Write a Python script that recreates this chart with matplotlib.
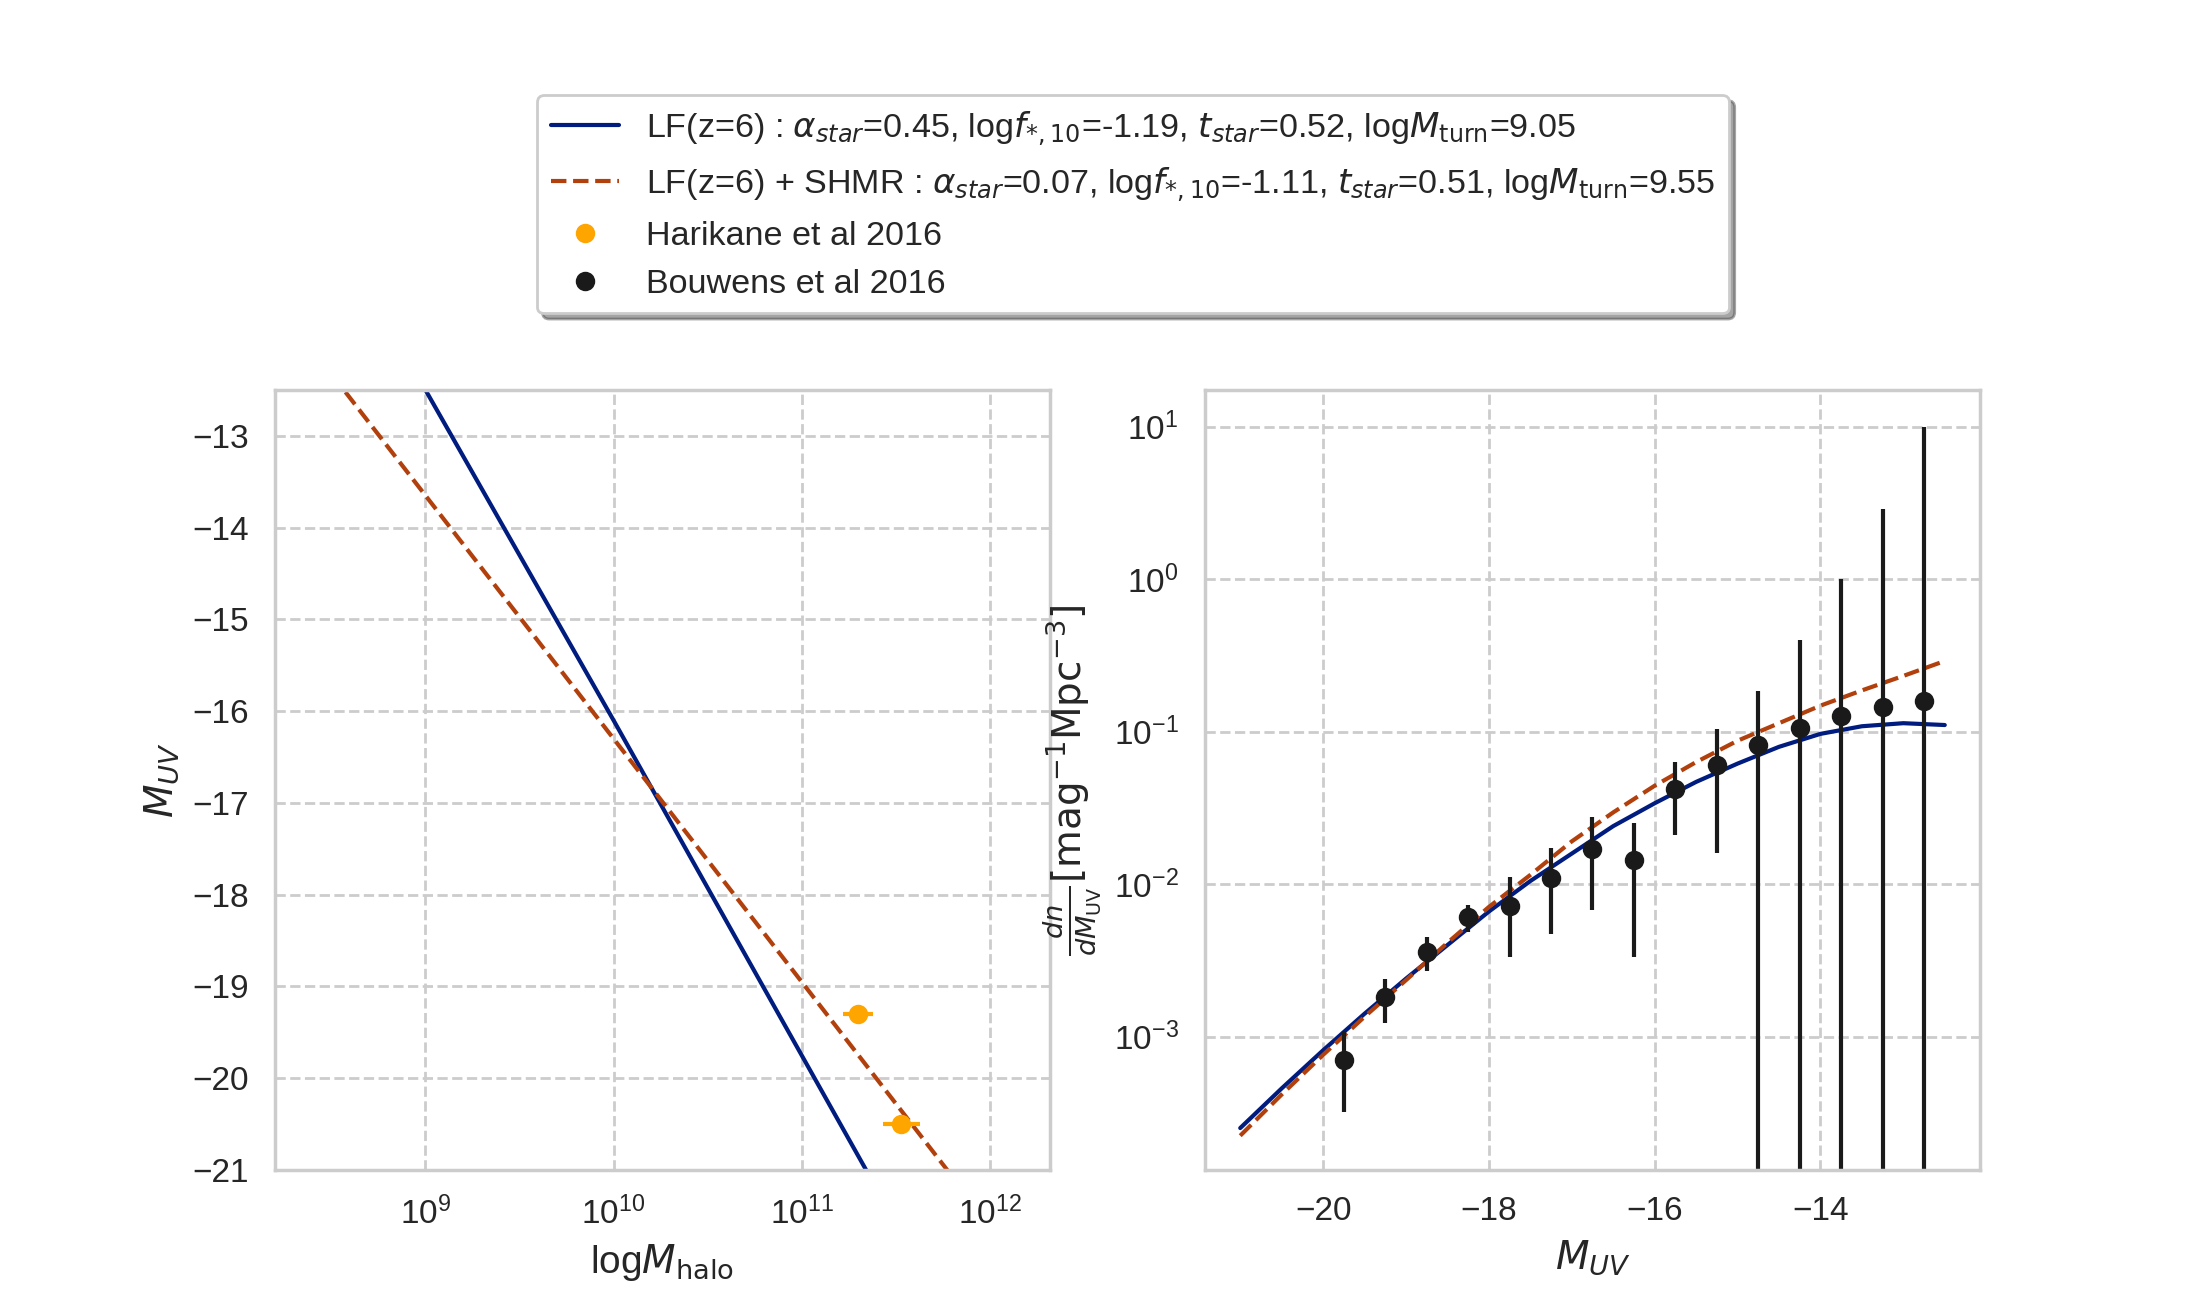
import numpy as np
import matplotlib
matplotlib.use("Agg")
import matplotlib.pyplot as plt
import seaborn as sns
from matplotlib.lines import Line2D

sns.set_theme(style="whitegrid")
plt.rcParams["font.family"] = ["Liberation Sans", "DejaVu Sans"]
plt.rcParams["grid.linestyle"] = "--"
plt.rcParams["xtick.labelsize"] = 12
plt.rcParams["ytick.labelsize"] = 12
plt.rcParams["axes.labelsize"] = 14

BLUE = "#001c7f"
RED = "#b1400d"
DOT = "#1a1a1a"

# ---- left panel: M_UV vs halo mass ----
logm_lf = [8.5, 9.0, 10.0, 11.0, 12.0]
muv_lf = [-10.7, -12.5, -16.1, -19.75, -23.4]
logm_shmr = [8.0, 9.0, 10.0, 11.0, 12.0]
muv_shmr = [-11.0, -13.65, -16.3, -18.95, -21.6]

hari_logm = [11.30, 11.53]
hari_logm_err = [0.08, 0.10]
hari_muv = [-19.3, -20.5]

# ---- right panel: luminosity function ----
lf_muv = [-21.0, -20.5, -20.0, -19.5, -19.0, -18.5, -18.0, -17.5, -17.0,
          -16.5, -16.0, -15.5, -15.0, -14.5, -14.0, -13.5, -13.0, -12.5]
lf_log_phi = [-3.60, -3.34, -3.09, -2.85, -2.62, -2.40, -2.18, -1.98, -1.80,
              -1.62, -1.47, -1.33, -1.21, -1.10, -1.015, -0.965, -0.945, -0.957]
shmr_log_phi = [-3.65, -3.38, -3.12, -2.87, -2.63, -2.385, -2.15, -1.94, -1.72,
                -1.53, -1.355, -1.20, -1.06, -0.945, -0.83, -0.73, -0.635, -0.537]

bou_muv = [-19.75, -19.25, -18.75, -18.25, -17.75, -17.25, -16.75, -16.25,
           -15.75, -15.25, -14.75, -14.25, -13.75, -13.25, -12.75]
bou_phi = [7.0e-4, 1.81e-3, 3.6e-3, 6.05e-3, 7.2e-3, 1.1e-2, 1.71e-2, 1.43e-2,
           4.2e-2, 6.0e-2, 8.15e-2, 0.105, 0.127, 0.146, 0.158]
bou_err = [3.8e-4, 5.9e-4, 9.0e-4, 1.2e-3, 3.9e-3, 6.3e-3, 1.03e-2, 1.1e-2,
           2.1e-2, 4.4e-2, 0.104, 0.295, 0.873, 2.75, 9.84]

lab_lf = (r"LF(z=6) : $\alpha_{star}$=0.45, log$f_{*,10}$=-1.19, "
          r"$t_{star}$=0.52, log$M_{\rm turn}$=9.05")
lab_shmr = (r"LF(z=6) + SHMR : $\alpha_{star}$=0.07, log$f_{*,10}$=-1.11, "
            r"$t_{star}$=0.51, log$M_{\rm turn}$=9.55")

fig, (ax1, ax2) = plt.subplots(1, 2, figsize=(11, 6.5), dpi=200)
fig.subplots_adjust(left=0.125, right=0.9, bottom=0.1, top=0.7, wspace=0.2)

# left
ax1.plot(10 ** np.array(logm_lf), muv_lf, color=BLUE, lw=1.5)
ax1.plot(10 ** np.array(logm_shmr), muv_shmr, color=RED, lw=1.5, ls="--")
hx = 10 ** np.array(hari_logm)
herr = np.array(hari_logm_err)
xerr = [hx - 10 ** (np.array(hari_logm) - herr), 10 ** (np.array(hari_logm) + herr) - hx]
ax1.errorbar(hx, hari_muv, xerr=xerr, fmt="o", color="orange", ms=6, lw=1.5)
ax1.set_xscale("log")
ax1.set_xlim(10 ** 8.2, 10 ** 12.32)
ax1.set_ylim(-21, -12.5)
ax1.set_xlabel(r"log$M_{\rm halo}$")
ax1.set_ylabel(r"$M_{UV}$")
ax1.grid(True, which="major", ls="--")

# right
ax2.plot(lf_muv, 10 ** np.array(lf_log_phi), color=BLUE, lw=1.5)
ax2.plot(lf_muv, 10 ** np.array(shmr_log_phi), color=RED, lw=1.5, ls="--")
ax2.errorbar(bou_muv, bou_phi, yerr=bou_err, fmt="o", color=DOT, ms=6, lw=1.5)
ax2.set_yscale("log")
ax2.set_xlim(-21.425, -12.075)
ax2.set_ylim(10 ** -3.875, 10 ** 1.24)
ax2.set_xlabel(r"$M_{UV}$")
ax2.set_ylabel(r"$\frac{dn}{dM_{\rm UV}}[{\rm mag}^{-1}{\rm Mpc}^{-3}]$")
ax2.grid(True, which="major", ls="--")
ax2.grid(False, which="minor")

handles = [
    Line2D([], [], color=BLUE, lw=1.5),
    Line2D([], [], color=RED, lw=1.5, ls="--"),
    Line2D([], [], color="orange", marker="o", ls="none", ms=6),
    Line2D([], [], color=DOT, marker="o", ls="none", ms=6),
]
labels = [lab_lf, lab_shmr, "Harikane et al 2016", "Bouwens et al 2016"]
fig.legend(handles, labels, loc="upper center", bbox_to_anchor=(0.515, 0.94),
           shadow=True, frameon=True, fontsize=12.3)

fig.savefig("out.png", dpi=200)
